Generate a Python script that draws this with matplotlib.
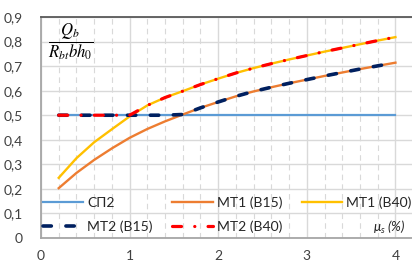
import numpy as np
import matplotlib
matplotlib.use("Agg")
import matplotlib.pyplot as plt
from matplotlib.ticker import MultipleLocator, FuncFormatter

plt.rcParams['font.family'] = ['Lato', 'DejaVu Sans']
plt.rcParams['mathtext.fontset'] = 'custom'
plt.rcParams['mathtext.it'] = 'Lato:italic'
plt.rcParams['mathtext.rm'] = 'Lato'
plt.rcParams['lines.scale_dashes'] = False

# reinforcement ratio mu_s (%)
mu = [0.2, 0.4, 0.6, 0.8, 1.0, 1.2, 1.4, 1.6, 1.8, 2.0, 2.2, 2.4,
      2.6, 2.8, 3.0, 3.2, 3.4, 3.6, 3.8, 4.0]

# Qb / (Rbt b h0)
sp2 = [0.5] * 20
mt1_b15 = [0.203, 0.265, 0.318, 0.365, 0.408, 0.444, 0.475, 0.503, 0.53, 0.554,
           0.577, 0.597, 0.614, 0.63, 0.645, 0.66, 0.674, 0.688, 0.701, 0.714]
mt1_b40 = [0.245, 0.325, 0.39, 0.443, 0.495, 0.54, 0.572, 0.598, 0.625, 0.649,
           0.672, 0.692, 0.71, 0.727, 0.743, 0.759, 0.774, 0.789, 0.804, 0.818]
mt2_b15 = [0.5, 0.5, 0.5, 0.5, 0.5, 0.5, 0.5, 0.503, 0.53, 0.554,
           0.577, 0.597, 0.614, 0.63, 0.645, 0.66, 0.674, 0.688, 0.701, 0.714]
mt2_b40 = [0.5, 0.5, 0.5, 0.5, 0.5, 0.54, 0.572, 0.598, 0.625, 0.649,
           0.672, 0.692, 0.71, 0.727, 0.743, 0.759, 0.774, 0.789, 0.804, 0.818]

fig = plt.figure(figsize=(4.12, 2.65), dpi=100)
ax = fig.add_axes([41 / 412, 27 / 265, 371 / 412, 221 / 265])

h1, = ax.plot(mu, sp2, color='#5B9BD5', lw=1.6, label='СП2')
h2, = ax.plot(mu, mt1_b15, color='#ED7D31', lw=1.7, label='МТ1 (В15)')
h3, = ax.plot(mu, mt1_b40, color='#FFC000', lw=1.7, label='МТ1 (В40)')
h4, = ax.plot(mu, mt2_b15, color='#002060', lw=2.6, label='МТ2 (В15)',
              dash_capstyle='round')
h4.set_dashes((6.0, 10.5))
h5, = ax.plot(mu, mt2_b40, color='#FF0000', lw=2.3, label='МТ2 (В40)',
              dash_capstyle='round')
h5.set_dashes((6.5, 9.5, 0.1, 9.5))

ax.set_xlim(0, 4.187)
ax.set_ylim(0, 0.9)
ax.xaxis.set_major_locator(MultipleLocator(1))
ax.xaxis.set_minor_locator(MultipleLocator(0.2))
ax.yaxis.set_major_locator(MultipleLocator(0.1))
ax.yaxis.set_major_formatter(FuncFormatter(
    lambda v, p: '0' if abs(v) < 1e-9 else f'{v:.1f}'.replace('.', ',')))
ax.grid(which='major', axis='both', color='#D9D9D9', lw=1.0)
ax.grid(which='minor', axis='x', color='#D9D9D9', lw=0.8, ls=(0, (4, 3)))
ax.set_axisbelow(True)
ax.tick_params(which='both', length=0, labelsize=10, colors='#404040')
ax.tick_params(axis='x', pad=9)
ax.tick_params(axis='y', pad=13)

for s in ('left', 'bottom'):
    ax.spines[s].set_color('#A6A6A6')
    ax.spines[s].set_linewidth(1.3)
ax.spines['top'].set_color('#595959')
ax.spines['top'].set_linewidth(1.3)
ax.spines['right'].set_visible(False)

# column-major fill -> rows: СП2, МТ1 (В15), МТ1 (В40) / МТ2 (В15), МТ2 (В40)
handles = [h1, h4, h2, h5, h3]
ax.legend(handles=handles, labels=[h.get_label() for h in handles],
          ncol=3, frameon=False, fontsize=10, loc='upper left',
          bbox_to_anchor=(43 / 412, 1 - 196 / 265), bbox_transform=fig.transFigure,
          borderpad=0, borderaxespad=0, handlelength=2.9, handletextpad=0.3,
          columnspacing=1.4, labelspacing=0.85, labelcolor='#262626')

fig.text(71 / 412, 1 - 42 / 265, r'$\dfrac{Q_b}{R_{bt}bh_0}$', fontsize=12,
         ha='center', va='center', math_fontfamily='stix')
fig.text(406 / 412, 1 - 227 / 265, r'$\mu_s$ (%)', fontsize=9.5,
         style='italic', ha='right', va='center', color='#262626')

fig.savefig('out.png', dpi=100)
